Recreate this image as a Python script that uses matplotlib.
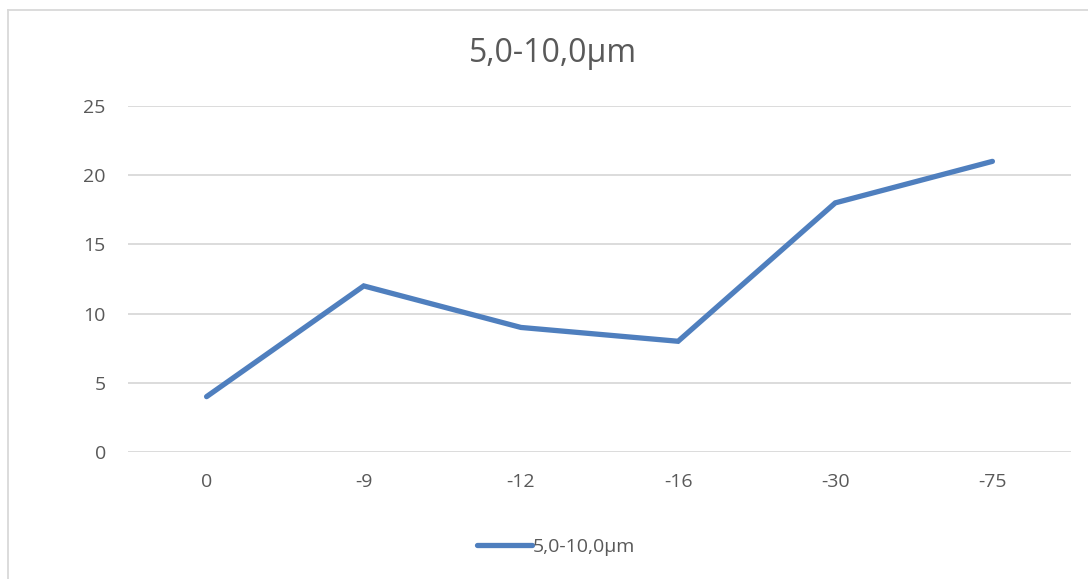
import matplotlib.pyplot as plt
from matplotlib.lines import Line2D

categories = ["0", "-9", "-12", "-16", "-30", "-75"]
values = [4, 12, 9, 8, 18, 21]
series_name = "5,0-10,0µm"
yticks = [0, 5, 10, 15, 20, 25]

plt.rcParams['font.family'] = ['Open Sans', 'DejaVu Sans']

W, H = 1088, 579
fig = plt.figure(figsize=(W / 100, H / 100), dpi=100)
ax = fig.add_axes([128 / W, 1 - 452 / H, (1071 - 128) / W, (452 - 106) / H])

x = range(len(categories))
ax.plot(x, values, color="#4F7FBE", linewidth=3.8, solid_capstyle="round",
        solid_joinstyle="miter", label=series_name, zorder=3)

ax.set_xlim(-0.5, len(categories) - 0.5)
ax.set_ylim(0, 25)
ax.set_yticks(yticks)
ax.set_xticks(list(x))
ax.set_xticklabels(categories)
ax.yaxis.grid(True, color="#D9D9D9", linewidth=1.3)
ax.set_axisbelow(True)
for s in ax.spines.values():
    s.set_visible(False)
ax.tick_params(length=0, labelsize=14, labelcolor="#595959")
ax.tick_params(axis="y", pad=16)
ax.tick_params(axis="x", pad=15)

fig.text(553 / W, 1 - 53 / H, series_name, ha="center", va="center",
         fontsize=23, color="#595959")

# chart border (left and top edges)
fig.add_artist(Line2D([8 / W, 8 / W], [0, 1 - 10 / H], color="#D9D9D9", lw=1.3))
fig.add_artist(Line2D([8 / W, 1], [1 - 10 / H, 1 - 10 / H], color="#D9D9D9", lw=1.3))

leg = fig.legend(loc="center", bbox_to_anchor=(556 / W, 1 - 547 / H), frameon=False,
                 fontsize=14, handlelength=2.8, handletextpad=0.05, labelcolor="#595959")

fig.savefig("out.png", dpi=100, facecolor="white")
